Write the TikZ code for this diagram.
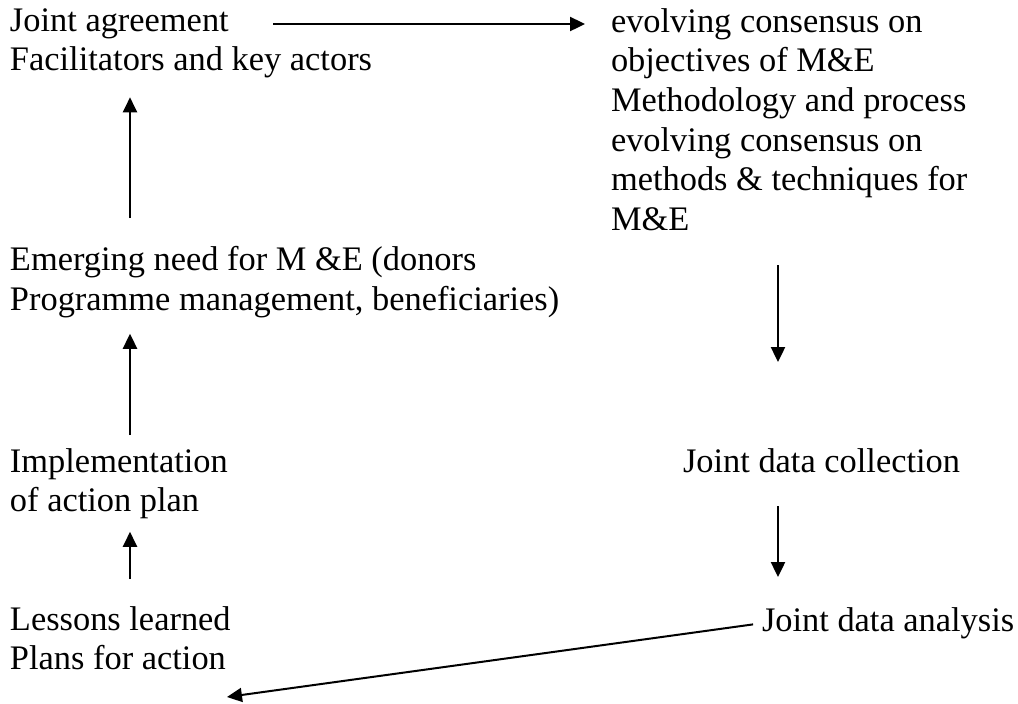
\documentclass[tikz,border=0pt]{standalone}
\usepackage{fontspec}
\setmainfont{Liberation Serif}
\usetikzlibrary{arrows.meta}
\begin{document}
\begin{tikzpicture}[x=0.5pt,y=-0.5pt,
    txt/.style={anchor=north west,inner sep=0pt,outer sep=0pt,align=left,
      font=\fontsize{17.2}{19.8}\selectfont},
    arr/.style={-{Triangle[length=7.5pt,width=7pt]},line width=1.2pt}]
  \useasboundingbox (0,0) rectangle (1018,703);
  % Bloques de texto
  \node[txt] (agree) at (10,8.5) {Joint agreement\\Facilitators and key actors};
  \node[txt] (obj) at (611,8.5) {evolving consensus on\\objectives of M\&E\\Methodology and process\\evolving consensus on\\methods \& techniques for\\M\&E};
  \node[txt] (emerge) at (10,246.5) {Emerging need for M \&E (donors\\Programme management, beneficiaries)};
  \node[txt] (impl) at (10,448.5) {Implementation\\of action plan};
  \node[txt] (lessons) at (10,606.5) {Lessons learned\\Plans for action};
  \node[txt] (collect) at (683,448.5) {Joint data collection};
  \node[txt] (analysis) at (762,607.5) {Joint data analysis};
  % Ejes de las flechas
  \coordinate (lx) at (130,0);
  \coordinate (rx) at (778,0);
  \coordinate (a1s) at (273,24);
  \coordinate (a4e) at (227,697);
  % Flechas
  \draw[arr,shorten >=13pt] (a1s) -- (a1s -| obj.west);
  \draw[arr,shorten <=17.25pt,shorten >=43.25pt] (obj.south -| rx) -- (collect.north -| rx);
  \draw[arr,shorten <=16.7pt,shorten >=15.25pt] (collect.south -| rx) -- (analysis.north -| rx);
  \draw[arr,line width=1pt,shorten <=4.5pt] (analysis.west) -- (a4e);
  \draw[arr,shorten <=13.75pt,shorten >=6.25pt] (lessons.north -| lx) -- (impl.south -| lx);
  \draw[arr,shorten <=6.75pt,shorten >=8pt] (impl.north -| lx) -- (emerge.south -| lx);
  \draw[arr,shorten <=14.25pt,shorten >=9.5pt] (emerge.north -| lx) -- (agree.south -| lx);
\end{tikzpicture}
\end{document}
